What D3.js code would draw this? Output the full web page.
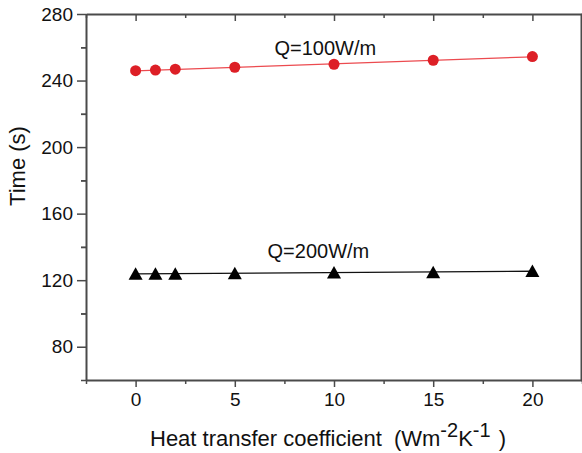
<!DOCTYPE html>
<html><head><meta charset="utf-8">
<script src="https://cdn.jsdelivr.net/npm/d3@7"></script>
<style>body{margin:0;background:#fff}svg{display:block}text{font-family:"Liberation Sans",Arial,sans-serif}</style>
</head><body><svg id="c" width="582" height="453"></svg>
<script>
const hValues = [0, 1, 2, 5, 10, 15, 20];
const timeQ100 = [245.9, 246.3, 246.8, 248.0, 249.8, 252.2, 254.4];
const timeQ200 = [123.8, 123.9, 123.9, 124.1, 124.6, 124.8, 125.5];
const xTicks = [0, 5, 10, 15, 20];
const yTicks = [80, 120, 160, 200, 240, 280];
const seriesLabels = ["Q=100W/m", "Q=200W/m"];

const svg = d3.select("#c");
const x = d3.scaleLinear().domain([-2.5, 22.5]).range([86, 582]);
const y = d3.scaleLinear().domain([60, 280]).range([380, 14]);
const axisColor = "#4a4a4a";

const xMinor = d3.range(-2.5, 22.6, 5);
const yMinor = d3.range(60, 281, 40);

function styleAxis(g){
  g.select(".domain").attr("stroke", axisColor).attr("stroke-width", 2);
  g.selectAll(".tick line").attr("stroke", axisColor).attr("stroke-width", 1.5);
  g.selectAll("text").attr("font-size", 19).attr("fill", "#111");
}

// bottom
svg.append("g").attr("transform", `translate(0,${y.range()[0]})`)
  .call(d3.axisBottom(x).tickValues(xMinor).tickSize(4).tickFormat("").tickSizeOuter(0)).call(styleAxis);
svg.append("g").attr("transform", `translate(0,${y.range()[0]})`)
  .call(d3.axisBottom(x).tickValues(xTicks).tickSize(7).tickPadding(6).tickSizeOuter(0)).call(styleAxis)
  .call(g=>g.select(".domain").remove());
// top
svg.append("g").attr("transform", `translate(0,${y.range()[1]})`)
  .call(d3.axisBottom(x).tickValues(xMinor).tickSize(4).tickFormat("").tickSizeOuter(0)).call(styleAxis);
svg.append("g").attr("transform", `translate(0,${y.range()[1]})`)
  .call(d3.axisBottom(x).tickValues(xTicks).tickSize(7).tickFormat("").tickSizeOuter(0)).call(styleAxis)
  .call(g=>g.select(".domain").remove());
// left
svg.append("g").attr("transform", `translate(${x.range()[0]},0)`)
  .call(d3.axisLeft(y).tickValues(yMinor.concat(d3.range(100, 281, 40)).filter(v=>!yTicks.includes(v))).tickSize(5).tickFormat("").tickSizeOuter(0)).call(styleAxis);
svg.append("g").attr("transform", `translate(${x.range()[0]},0)`)
  .call(d3.axisLeft(y).tickValues(yTicks).tickSize(9).tickPadding(4).tickSizeOuter(0)).call(styleAxis)
  .call(g=>g.select(".domain").remove());
// right
svg.append("g").attr("transform", `translate(${x.range()[1]-1},0)`)
  .call(d3.axisLeft(y).tickValues(d3.range(60, 281, 20)).tickSize(-5).tickFormat("").tickSizeOuter(0)).call(styleAxis);

// fit lines
function fit(xs, ys){
  const mx = d3.mean(xs), my = d3.mean(ys);
  const b = d3.sum(xs, (v,i)=>(v-mx)*(ys[i]-my)) / d3.sum(xs, v=>(v-mx)*(v-mx));
  return v => my + b*(v-mx);
}
const line = d3.line().x(d=>x(d[0])).y(d=>y(d[1]));
const f1 = fit(hValues, timeQ100), f2 = fit(hValues, timeQ200);
const ends = d3.extent(hValues);
svg.append("path").attr("d", line(ends.map(v=>[v, f1(v)]))).attr("stroke", "#ec4a4f").attr("stroke-width", 1.3).attr("fill", "none");
svg.append("path").attr("d", line(ends.map(v=>[v, f2(v)]))).attr("stroke", "#111").attr("stroke-width", 1.3).attr("fill", "none");

// markers
svg.append("g").selectAll("circle").data(hValues).join("circle")
  .attr("cx", (d)=>x(d)).attr("cy", (d,i)=>y(timeQ100[i])).attr("r", 5.5).attr("fill", "#dd1f26");
svg.append("g").selectAll("path").data(hValues).join("path")
  .attr("transform", (d,i)=>`translate(${x(d)},${y(timeQ200[i])})`)
  .attr("d", "M0,-6.5L7,6L-7,6Z").attr("fill", "#000");

// annotations
svg.append("text").attr("x", x(7.0)).attr("y", y(255.4)).attr("font-size", 20).attr("fill", "#111").text(seriesLabels[0]);
svg.append("text").attr("x", x(6.65)).attr("y", y(133.3)).attr("font-size", 20).attr("fill", "#111").text(seriesLabels[1]);

// axis titles
const xt = svg.append("text").attr("x", 150).attr("y", 446).attr("font-size", 22).attr("fill", "#111");
xt.append("tspan").text("Heat transfer coefficient");
xt.append("tspan").attr("dx", 12).text("(Wm");
xt.append("tspan").attr("dy", -9).attr("font-size", 20).text("-2");
xt.append("tspan").attr("dy", 9).text("K");
xt.append("tspan").attr("dy", -9).attr("font-size", 20).text("-1");
xt.append("tspan").attr("dy", 9).attr("dx", 8).text(")");

svg.append("text").attr("transform", "translate(25,166) rotate(-90)").attr("text-anchor", "middle")
  .attr("font-size", 22).attr("fill", "#111").text("Time (s)");
</script></body></html>
